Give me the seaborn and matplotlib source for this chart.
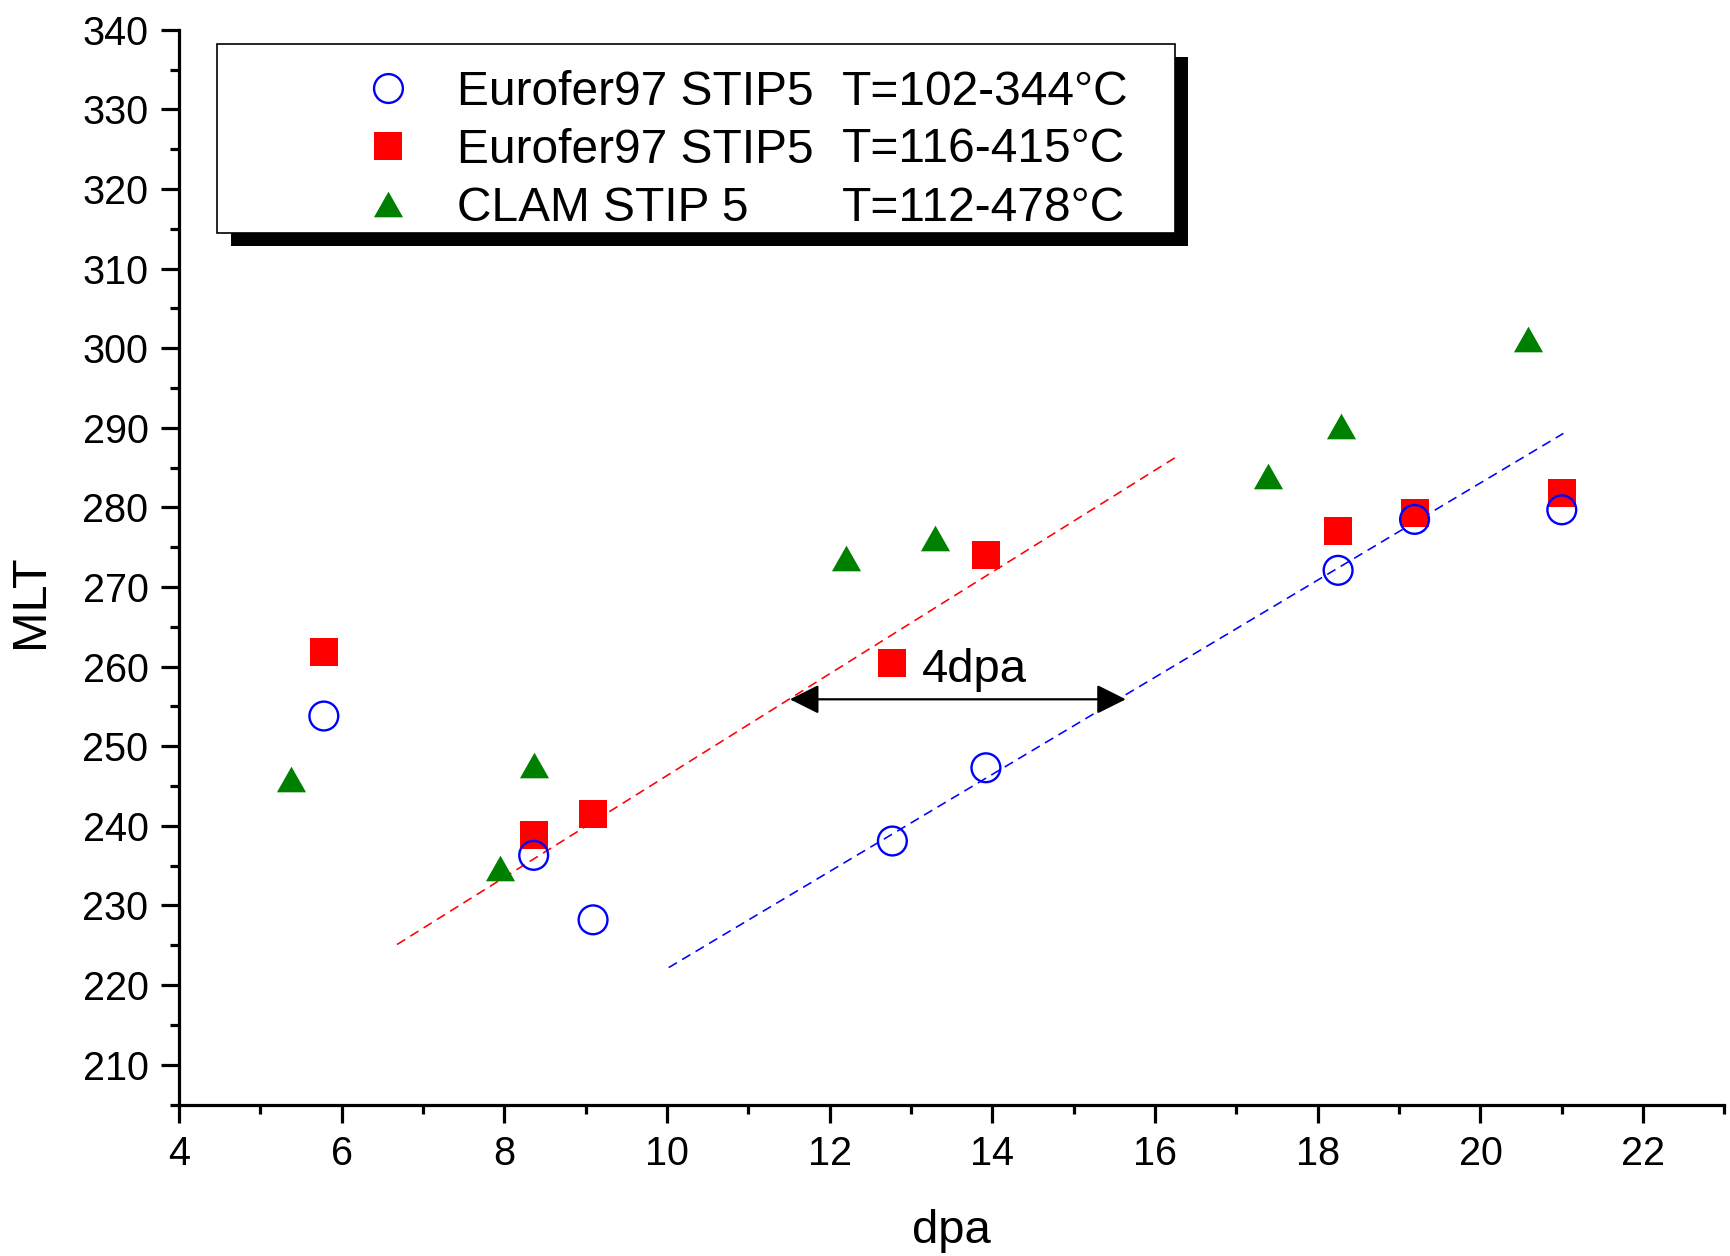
import matplotlib
matplotlib.use("Agg")
import matplotlib.pyplot as plt
import seaborn as sns
import numpy as np
import pandas as pd
from matplotlib.path import Path
from matplotlib.patches import Rectangle
from matplotlib.ticker import MultipleLocator

# ---------------- data ----------------
dpa_blue = [5.78, 8.36, 9.09, 12.77, 13.92, 18.25, 19.19, 21.00]
mlt_blue = [253.8, 236.3, 228.2, 238.1, 247.3, 272.1, 278.5, 279.7]

dpa_red = [5.78, 8.36, 9.09, 12.77, 13.92, 18.25, 19.19, 21.00]
mlt_red = [261.8, 238.8, 241.5, 260.4, 274.0, 277.1, 279.3, 281.8]

dpa_green = [5.38, 7.94, 8.36, 12.20, 13.30, 17.39, 18.28, 20.59]
mlt_green = [245.9, 234.7, 247.6, 273.7, 276.1, 283.9, 290.2, 301.2]

fit_red_x = [6.68, 16.30]
fit_red_y = [225.1, 286.6]
fit_blue_x = [10.02, 21.02]
fit_blue_y = [222.2, 289.3]

series_names = ["Eurofer97 STIP5", "Eurofer97 STIP5", "CLAM STIP 5"]
series_temps = ["T=102-344°C", "T=116-415°C", "T=112-478°C"]

arrow_x = [11.51, 15.64]
arrow_y = 255.9
shift_label = "4dpa"
shift_label_pos = (13.13, 258.1)

x_ticks = [4, 6, 8, 10, 12, 14, 16, 18, 20, 22]
y_ticks = [210, 220, 230, 240, 250, 260, 270, 280, 290, 300, 310, 320, 330, 340]

# ---------------- style ----------------
sns.set_style("ticks")
plt.rcParams["font.family"] = ["Liberation Sans", "DejaVu Sans"]
plt.rcParams["text.color"] = "black"
plt.rcParams["axes.labelcolor"] = "black"
plt.rcParams["xtick.color"] = "black"
plt.rcParams["ytick.color"] = "black"

fig = plt.figure(figsize=(17.3, 12.56), dpi=100)
ax = fig.add_axes([0.1035, 0.1206, 0.8933, 0.8557])

BLUE = "#0000FF"
RED = "#FF0000"
GREEN = "#008000"

tri = Path([(-1.0, -0.88), (1.0, -0.88), (0.0, 0.88), (-1.0, -0.88)],
           [Path.MOVETO, Path.LINETO, Path.LINETO, Path.CLOSEPOLY])

dash = (0, (6, 3.8))
sns.lineplot(x=fit_red_x, y=fit_red_y, ax=ax, color=RED, lw=1.15,
             linestyle=dash, zorder=2)
sns.lineplot(x=fit_blue_x, y=fit_blue_y, ax=ax, color=BLUE, lw=1.15,
             linestyle=dash, zorder=2)

sns.scatterplot(x=dpa_red, y=mlt_red, ax=ax, marker="s", s=400,
                color=RED, linewidth=0, label=series_names[1], zorder=3)
sns.scatterplot(x=dpa_blue, y=mlt_blue, ax=ax, marker="o", s=430,
                facecolors="none", edgecolors=BLUE, linewidth=1.7,
                label=series_names[0], zorder=4)
sns.scatterplot(x=dpa_green, y=mlt_green, ax=ax, marker=tri, s=440,
                color=GREEN, linewidth=0, label=series_names[2], zorder=3)

# 4 dpa arrow
ax.annotate("", xy=(arrow_x[0], arrow_y), xytext=(arrow_x[1], arrow_y),
            arrowprops=dict(arrowstyle="<|-|>", color="black", lw=1.6,
                            mutation_scale=45, shrinkA=0, shrinkB=0),
            zorder=5)
ax.text(shift_label_pos[0], shift_label_pos[1], shift_label, fontsize=34,
        va="baseline", ha="left", color="black")

# axes
ax.set_xlim(4, 23)
ax.set_ylim(205, 340)
ax.set_xticks(x_ticks)
ax.set_yticks(y_ticks)
ax.xaxis.set_minor_locator(MultipleLocator(1))
ax.yaxis.set_minor_locator(MultipleLocator(5))
for s in ["top", "right"]:
    ax.spines[s].set_visible(False)
for s in ["left", "bottom"]:
    ax.spines[s].set_linewidth(2.3)
    ax.spines[s].set_color("black")
ax.tick_params(which="major", length=13, width=2.3, direction="out",
               labelsize=28.5, pad=9, colors="black")
ax.tick_params(which="minor", length=6.5, width=2.3, direction="out",
               colors="black")

ax.set_xlabel("dpa", fontsize=34, color="black")
ax.set_ylabel("MLT", fontsize=35, color="black")
ax.xaxis.set_label_coords(0.5, -0.097)
ax.yaxis.set_label_coords(-0.0815, 0.4685)

# legend frame with shadow
lx0, ly0, lw_, lh_ = 0.0248, 0.8111, 0.6197, 0.1756
ax.add_patch(Rectangle((lx0 + 0.0085, ly0 - 0.0123), lw_, lh_, transform=ax.transAxes,
                       facecolor="black", edgecolor="black", lw=0, zorder=6, clip_on=False))
ax.add_patch(Rectangle((lx0, ly0), lw_, lh_, transform=ax.transAxes,
                       facecolor="white", edgecolor="black", lw=1.2, zorder=6.1, clip_on=False))

handles, labels = ax.get_legend_handles_labels()
# handle order: blue, red, green
h_sorted = [handles[1], handles[0], handles[2]]
leg = ax.legend(h_sorted, series_names, loc="upper left",
                bbox_to_anchor=(0.1200, 0.9623), frameon=False, fontsize=34.5,
                borderpad=0, borderaxespad=0, handlelength=1.0,
                handletextpad=0.93, labelspacing=0.27, scatterpoints=1,
                scatteryoffsets=[0.5])
leg.set_zorder(7)
for t in leg.get_texts():
    t.set_color("black")

row_y = [0.9419, 0.8887, 0.8341]
for t, yy in zip(series_temps, row_y):
    ax.text(0.4289, yy, t, transform=ax.transAxes, fontsize=34.5,
            va="center", ha="left", zorder=8, color="black")

fig.savefig("out.png", dpi=100)
